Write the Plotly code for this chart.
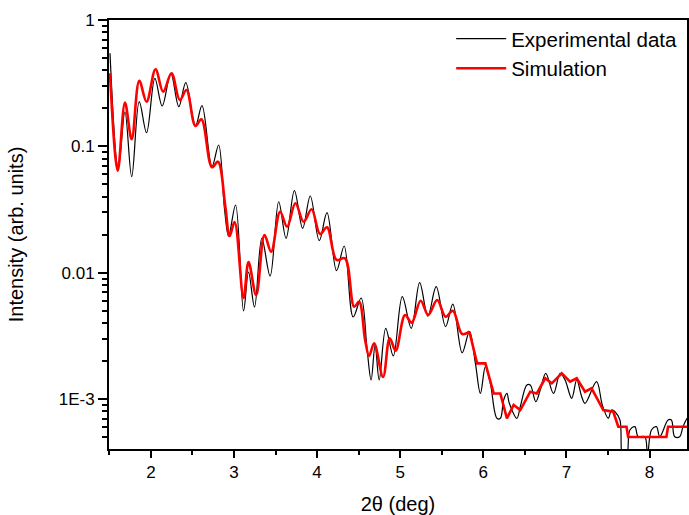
import plotly.graph_objects as go

# Experimental data (2theta in deg, intensity)
exp_x = [1.508, 1.608, 1.688, 1.769, 1.860, 1.948, 2.048, 2.136, 2.240, 2.336, 2.420, 2.536,
         2.615, 2.735, 2.815, 2.887, 2.935, 3.019, 3.115, 3.175, 3.247, 3.335, 3.435, 3.538,
         3.627, 3.727, 3.826, 3.918, 4.026, 4.119, 4.234, 4.326, 4.434, 4.530, 4.602, 4.650,
         4.698, 4.747, 4.826, 4.917, 5.025, 5.133, 5.234, 5.333, 5.433, 5.546, 5.633, 5.745,
         5.833, 5.905, 5.965, 6.025, 6.085, 6.164, 6.205, 6.245, 6.284, 6.313, 6.404, 6.445,
         6.524, 6.565, 6.632, 6.685, 6.752, 6.844, 6.925, 6.984, 7.064, 7.124, 7.184, 7.224,
         7.363, 7.432, 7.504, 7.543, 7.584, 7.644, 7.678, 7.723, 7.764, 7.824, 7.863, 7.944,
         7.975, 8.023, 8.083, 8.124, 8.223, 8.263, 8.303, 8.363, 8.403, 8.451]
exp_y = [0.545, 0.0671, 0.188, 0.0576, 0.2258, 0.1284, 0.3457, 0.2088, 0.3788, 0.2061, 0.3191, 0.1450,
         0.2099, 0.0691, 0.1026, 0.0314, 0.01954, 0.0344, 0.00499, 0.01015, 0.00536, 0.01875, 0.00943, 0.0365,
         0.01875, 0.0446, 0.02249, 0.0405, 0.01795, 0.0299, 0.01039, 0.01629, 0.00447, 0.00632, 0.00245, 0.00142,
         0.00268, 0.00142, 0.00364, 0.00220, 0.00647, 0.00364, 0.00835, 0.00455, 0.00776, 0.00375, 0.00566, 0.00233,
         0.00342, 0.00192, 0.00111, 0.00181, 0.001336, 0.000706, 0.000706, 0.000986, 0.00111, 0.000928, 0.000706, 0.000872,
         0.001295, 0.001295, 0.000956, 0.001183, 0.001603, 0.00111, 0.001603, 0.00142, 0.001016, 0.00142, 0.001047, 0.000928,
         0.001375, 0.000900, 0.000706, 0.000821, 0.000796, 0.000684, 0.00035, 0.00035, 0.000571, 0.000606, 0.000505, 0.000505,
         0.00035, 0.000571, 0.000606, 0.000505, 0.000684, 0.000684, 0.000505, 0.000505, 0.000606, 0.000706]

# Simulation: smooth part and stepped tail
sim_x = [1.508, 1.601, 1.688, 1.769, 1.860, 1.948, 2.056, 2.147, 2.248, 2.348, 2.428, 2.536,
         2.608, 2.735, 2.807, 2.896, 2.947, 3.007, 3.115, 3.175, 3.267, 3.367, 3.447, 3.555,
         3.639, 3.739, 3.838, 3.934, 4.035, 4.119, 4.234, 4.335, 4.446, 4.506, 4.578, 4.626,
         4.686, 4.794, 4.874, 4.946, 5.058, 5.138, 5.246, 5.337, 5.445, 5.546, 5.633, 5.745,
         5.833]
sim_y = [0.379, 0.0642, 0.2218, 0.1138, 0.331, 0.2258, 0.4074, 0.2709, 0.3788, 0.2329, 0.2794, 0.1450,
         0.1638, 0.0684, 0.0757, 0.0333, 0.01954, 0.02523, 0.00632, 0.01217, 0.00667, 0.01991, 0.01469, 0.0304,
         0.02316, 0.0355, 0.02537, 0.0318, 0.02028, 0.02291, 0.01263, 0.01302, 0.00539, 0.00591, 0.00294, 0.0022,
         0.00277, 0.0015, 0.00303, 0.00242, 0.00464, 0.00403, 0.00601, 0.00464, 0.00609, 0.00449, 0.00501, 0.00328,
         0.00342]
sim_tail_x = [5.833, 5.925, 6.025, 6.125, 6.205, 6.284, 6.365, 6.445, 6.565, 6.644, 6.745, 6.824,
              6.944, 7.044, 7.124, 7.224, 7.303, 7.444, 7.564, 7.624, 7.723, 7.743, 8.203, 8.223, 8.451]
sim_tail_y = [0.00342, 0.00192, 0.00192, 0.00111, 0.00111, 0.000706, 0.0009, 0.000821, 0.001146, 0.00111, 0.001463, 0.001336,
              0.001603, 0.001375, 0.001463, 0.001146, 0.00122, 0.000821, 0.000796, 0.000606, 0.000606, 0.000502, 0.000502, 0.000606, 0.000606]

y_tickvals = [1, 0.1, 0.01, 0.001]
y_ticktext = ["1", "0.1", "0.01", "1E-3"]
x_tickvals = [2, 3, 4, 5, 6, 7, 8]

FONT = "Liberation Sans, Arial, sans-serif"

fig = go.Figure()
fig.add_trace(go.Scatter(x=exp_x, y=exp_y, mode="lines", name="Experimental data",
                         line=dict(color="black", width=1.2, shape="spline", smoothing=1.0)))
fig.add_trace(go.Scatter(x=sim_x, y=sim_y, mode="lines", name="Simulation", legendgroup="sim",
                         line=dict(color="#ff0000", width=2.6, shape="spline", smoothing=1.0)))
fig.add_trace(go.Scatter(x=sim_tail_x, y=sim_tail_y, mode="lines", name="Simulation", legendgroup="sim",
                         showlegend=False, line=dict(color="#ff0000", width=2.6)))

fig.update_layout(
    width=689, height=515,
    margin=dict(l=109, r=0, t=20, b=66),
    paper_bgcolor="white", plot_bgcolor="white",
    font=dict(family=FONT, size=17, color="black"),
    showlegend=True,
    legend=dict(x=0.592, y=1.003, xanchor="left", yanchor="top", bgcolor="rgba(0,0,0,0)",
                font=dict(size=20.5), tracegroupgap=0, itemwidth=50),
    xaxis=dict(range=[1.496, 8.451], tickmode="array", tickvals=x_tickvals,
               ticks="outside", ticklen=7, tickwidth=1.5, tickcolor="black",
               showline=True, linecolor="black", linewidth=2, mirror=True,
               showgrid=False, zeroline=False,
               minor=dict(dtick=0.5, ticks="outside", ticklen=4, tickwidth=1.5, tickcolor="black", showgrid=False),
               title=dict(text="2θ (deg)", font=dict(size=20), standoff=19)),
    yaxis=dict(type="log", range=[-3.394, 0], tickmode="array", tickvals=y_tickvals, ticktext=y_ticktext,
               ticks="outside", ticklen=9, tickwidth=1.5, tickcolor="black",
               showline=True, linecolor="black", linewidth=2, mirror=True,
               showgrid=False, zeroline=False,
               minor=dict(dtick="D1", ticks="outside", ticklen=5, tickwidth=1.5, tickcolor="black", showgrid=False),
               title=dict(text="Intensity (arb. units)", font=dict(size=20), standoff=30)),
)

fig.write_html("out.html")
